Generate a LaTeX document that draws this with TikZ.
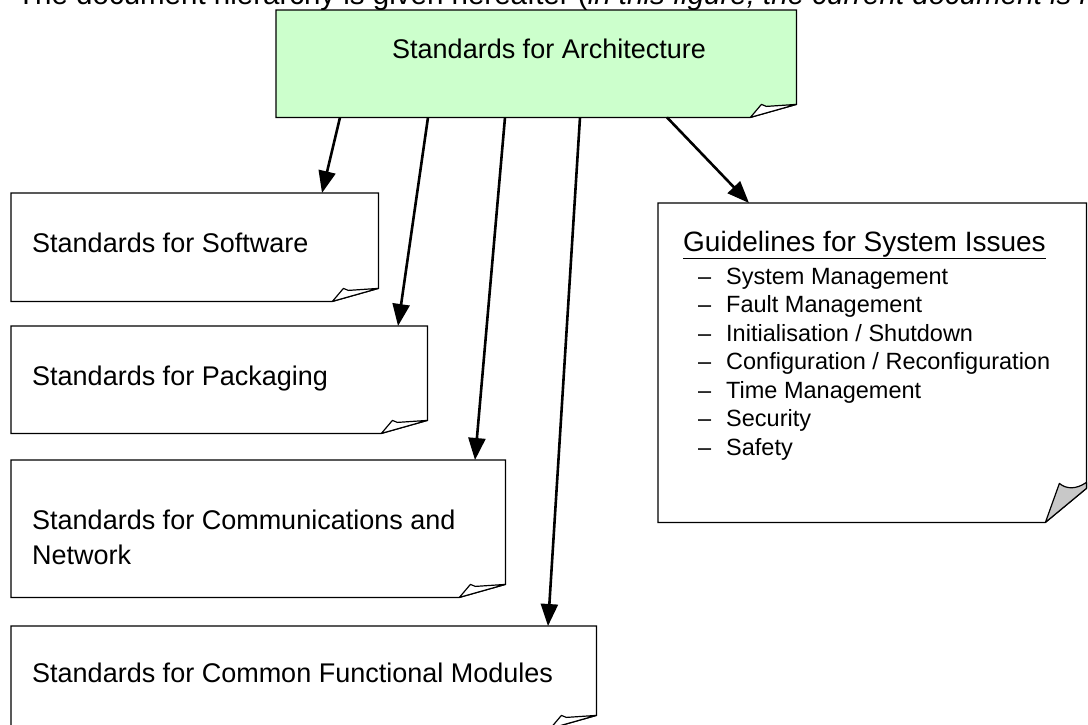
\documentclass[tikz,border=0pt]{standalone}
\usepackage{fontspec}
\setmainfont{Liberation Sans}
\usetikzlibrary{calc,arrows.meta}
\definecolor{archgreen}{HTML}{CCFFCC}
\definecolor{flapgrey}{HTML}{C8C8C8}
\tikzset{
  boxline/.style={draw=black, line width=1.2pt, line join=miter},
  area/.style={draw=none, anchor=north west, inner sep=0pt, minimum width=#1},
  boxtext/.style={anchor=base west, inner sep=0pt, font=\fontsize{27}{35}\selectfont},
  listtext/.style={anchor=base west, inner sep=0pt, font=\fontsize{23.5}{28}\selectfont},
  arr/.style={line width=2.6pt, -{Triangle[length=22pt,width=17pt]}},
}
\newcommand\smallfold[2]{%
  \draw[boxline, fill=#2] (#1.south west) -- (#1.north west) -- (#1.north east)
    -- ($(#1.south east)+(0,-13)$) -- ($(#1.south east)+(-46,0)$) -- cycle;
  \draw[boxline, fill=white, line join=round] ($(#1.south east)+(-46,0)$)
    -- ($(#1.south east)+(-35,-13)$)
    .. controls ($(#1.south east)+(-33,-12)$) .. ($(#1.south east)+(-30,-11)$)
    -- ($(#1.south east)+(0,-13)$) -- cycle;
}
\begin{document}
\begin{tikzpicture}[x=1pt,y=-1pt]
\useasboundingbox (0,0) rectangle (1088,724);
\clip (0,0) rectangle (1088,724);

% intro sentence, cut by the top edge
\node[anchor=base west, inner sep=0pt, font=\fontsize{29.5}{34}\selectfont] (intro) at (17,4)
  {The document hierarchy is given hereafter (\textit{in this figure, the current document is highlighted)}};

% boxes (areas)
\node[area=520pt, minimum height=107pt] (arch) at (276,10) {};
\node[area=367pt, minimum height=108pt] (sw) at (11,193) {};
\node[area=416pt, minimum height=107pt] (pk) at (11,326) {};
\node[area=494pt, minimum height=137pt] (cn) at (11,460) {};
\node[area=585pt, minimum height=102pt] (cf) at (11,626) {};
\node[area=428pt, minimum height=319pt] (gs) at (658,203) {};

% outlines
\smallfold{arch}{archgreen}
\smallfold{sw}{white}
\smallfold{pk}{white}
\smallfold{cn}{white}
\smallfold{cf}{white}
\draw[boxline, fill=white] (gs.south west) -- (gs.north west) -- (gs.north east)
  -- ($(gs.south east)+(0,-34)$) -- ($(gs.south east)+(-41,0)$) -- cycle;
\draw[boxline, fill=flapgrey, line join=round] ($(gs.south east)+(-41,0)$)
  -- ($(gs.south east)+(-27,-39)$)
  .. controls ($(gs.south east)+(-20,-33)$) and ($(gs.south east)+(-10,-33)$) .. ($(gs.south east)+(0,-40)$)
  -- ($(gs.south east)+(0,-34)$) -- cycle;

% texts
\node[boxtext] (archt) at (392,58) {Standards for Architecture};
\node[boxtext] (swt) at (32,252) {Standards for Software};
\node[boxtext] (pkt) at (32,385) {Standards for Packaging};
\node[boxtext] (cnt1) at (32,529) {Standards for Communications and};
\node[boxtext] (cnt2) at (32,564) {Network};
\node[boxtext] (cft) at (32,682) {Standards for Common Functional Modules};

\node[listtext, font=\fontsize{28}{32}\selectfont] (gst) at (683,251) {\underline{Guidelines for System Issues}};
\foreach \t [count=\i from 0] in {System Management, Fault Management, Initialisation / Shutdown,
    Configuration / Reconfiguration, Time Management, Security, Safety}{
  \node[listtext] (d\i) at (698,284+28.5*\i) {--};
  \node[listtext] (l\i) at (726,284+28.5*\i) {\t};
}

% connectors
\draw[arr] ($(arch.south west)+(64,0)$) -- ($(sw.north west)+(311,0)$);
\draw[arr] ($(arch.south west)+(152,0)$) -- ($(pk.north west)+(387,0)$);
\draw[arr] ($(arch.south west)+(229,0)$) -- ($(cn.north west)+(464,0)$);
\draw[arr] ($(arch.south west)+(304,0)$) -- ($(cf.north west)+(537,0)$);
\draw[arr] ($(arch.south west)+(391,0)$) -- ($(gs.north west)+(91,0)$);
\end{tikzpicture}
\end{document}
